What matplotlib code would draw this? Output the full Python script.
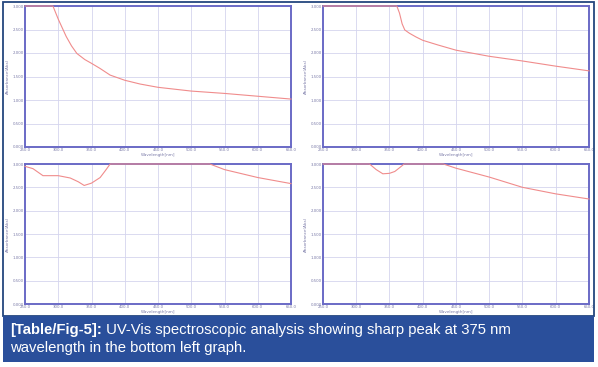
#!/usr/bin/env python3
import matplotlib
matplotlib.use("Agg")
import matplotlib.pyplot as plt
from matplotlib.patches import Rectangle

W, H = 598, 367

# wavelength (nm) / absorbance
tl_wl = [250, 292, 300, 312, 320, 328, 340, 350, 363, 378, 400, 423, 450, 500, 550, 600, 650]
tl_abs = [3.0, 3.0, 2.72, 2.35, 2.15, 1.99, 1.86, 1.78, 1.67, 1.53, 1.42, 1.34, 1.27, 1.19, 1.14, 1.08, 1.02]

tr_wl = [250, 361, 365, 369, 373, 380, 390, 400, 423, 450, 500, 550, 600, 650]
tr_abs = [3.0, 3.0, 2.85, 2.62, 2.49, 2.42, 2.34, 2.27, 2.17, 2.06, 1.93, 1.83, 1.72, 1.62]

bl_wl = [250, 262, 277, 300, 318, 330, 339, 350, 363, 372, 378, 528, 550, 600, 650]
bl_abs = [2.95, 2.90, 2.75, 2.75, 2.70, 2.62, 2.54, 2.59, 2.71, 2.88, 3.0, 3.0, 2.88, 2.71, 2.58]

br_wl = [250, 320, 330, 340, 350, 358, 366, 372, 431, 450, 500, 550, 600, 650]
br_abs = [3.0, 3.0, 2.88, 2.79, 2.80, 2.84, 2.93, 3.0, 3.0, 2.91, 2.72, 2.50, 2.36, 2.25]

x_ticks = [250, 300, 350, 400, 450, 500, 550, 600, 650]
y_ticks = [0.0, 0.5, 1.0, 1.5, 2.0, 2.5, 3.0]

caption_bold = "[Table/Fig-5]:"
caption_rest = " UV-Vis spectroscopic analysis showing sharp peak at 375 nm"
caption_line2 = "wavelength in the bottom left graph."

FRAME = "#6a6ac6"
GRID = "#d4d4ee"
LINE = "#f08c8c"
TICKC = "#7a7aa8"
BLUE = "#2a4f9b"


def px_axes(fig, left, top, right, bottom):
    return fig.add_axes([left / W, 1 - bottom / H, (right - left) / W, (bottom - top) / H])


def draw_panel(ax, wl, ab):
    ax.plot(wl, ab, color=LINE, lw=0.8, clip_on=False, zorder=3)
    ax.set_xlim(250, 650)
    ax.set_ylim(0, 3)
    ax.set_xticks(x_ticks)
    ax.set_yticks(y_ticks)
    ax.set_xticklabels([f"{v:.1f}" for v in x_ticks])
    ax.set_yticklabels([f"{v:.3f}" for v in y_ticks])
    ax.tick_params(length=0, pad=1, labelsize=2.8, colors=TICKC)
    ax.grid(True, color=GRID, lw=0.6)
    ax.set_axisbelow(True)
    for s in ax.spines.values():
        s.set_color(FRAME)
        s.set_linewidth(1.4)
    ax.set_xlabel("Wavelength[nm]", fontsize=3, color=TICKC, labelpad=0.5)
    ax.set_ylabel("Absorbance(Abs)", fontsize=3, color=TICKC, labelpad=2)


fig = plt.figure(figsize=(W / 100, H / 100), dpi=100)

panels = [
    ((25, 6, 291, 147), tl_wl, tl_abs),
    ((323, 6, 589, 147), tr_wl, tr_abs),
    ((25, 164, 291, 304), bl_wl, bl_abs),
    ((323, 164, 589, 304), br_wl, br_abs),
]
for (l, t, r, b), wl, ab in panels:
    draw_panel(px_axes(fig, l, t, r, b), wl, ab)

# outer frame and caption box
fig.patches.append(Rectangle((3 / W, 1 - 316 / H), 591 / W, 314 / H, transform=fig.transFigure,
                             fill=False, ec="#24477e", lw=1.3))
fig.patches.append(Rectangle((3 / W, 1 - 362 / H), 591 / W, 46 / H, transform=fig.transFigure,
                             fc=BLUE, ec=BLUE, lw=0))

fs = 10.7
t1 = fig.text(10 / W, 1 - 330 / H, caption_bold, color="white", fontsize=fs,
              fontweight="bold", family="Liberation Sans", va="center")
fig.canvas.draw()
bb = t1.get_window_extent()
fig.text(bb.x1 / W, 1 - 330 / H, caption_rest, color="white", fontsize=fs,
         family="Liberation Sans", va="center")
fig.text(10 / W, 1 - 348 / H, caption_line2, color="white", fontsize=fs,
         family="Liberation Sans", va="center")

fig.savefig("out.png", dpi=100)
